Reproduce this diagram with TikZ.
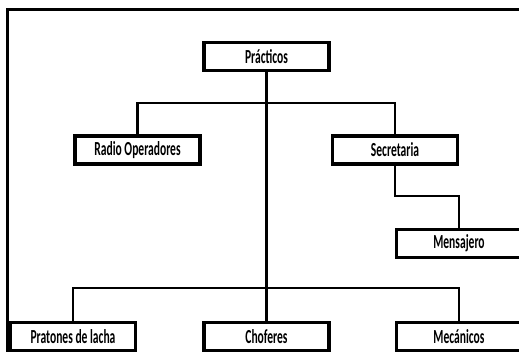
\documentclass[tikz,border=0pt]{standalone}
\usepackage{fontspec}
\setmainfont{Carlito}[FakeStretch=0.58]
\usetikzlibrary{positioning}

\begin{document}
\begin{tikzpicture}[x=1bp,y=-1bp,
    caja/.style={draw,line width=3.5bp,minimum width=125bp,minimum height=28bp,
      inner sep=0pt,font=\bfseries\fontsize{20}{22}\selectfont},
    linea/.style={line width=2.2bp}]
    \useasboundingbox (0,0) rectangle (519,351);
    \clip (0,0) rectangle (519,351);
    % marco
    \draw[line width=3bp] (7,400) -- (7,9) -- (560,9);
    % cajas
    \node[caja] (prac) at (266.5,56.5) {Prácticos};
    \node[caja] (radio) at (137.5,150) {Radio Operadores};
    \node[caja] (sec) at (395,150) {Secretaria};
    \node[caja] (mens) at (459,243.5) {Mensajero};
    \node[caja] (prat) at (73,336.5) {Pratones de lacha};
    \node[caja] (chof) at (266.5,336.5) {Choferes};
    \node[caja] (mec) at (459,336.5) {Mecánicos};
    % conectores
    \coordinate (bus1) at (266.5,103);
    \coordinate (bus2) at (266.5,288);
    \coordinate (giro) at (459,196);
    \draw[linea] (prac.south) -- (chof.north);
    \draw[linea] (radio.north) |- (bus1) -| (sec.north);
    \draw[linea] (prat.north) |- (bus2) -| (mec.north);
    \draw[linea] (sec.south) |- (giro) -- (mens.north);
\end{tikzpicture}
\end{document}
